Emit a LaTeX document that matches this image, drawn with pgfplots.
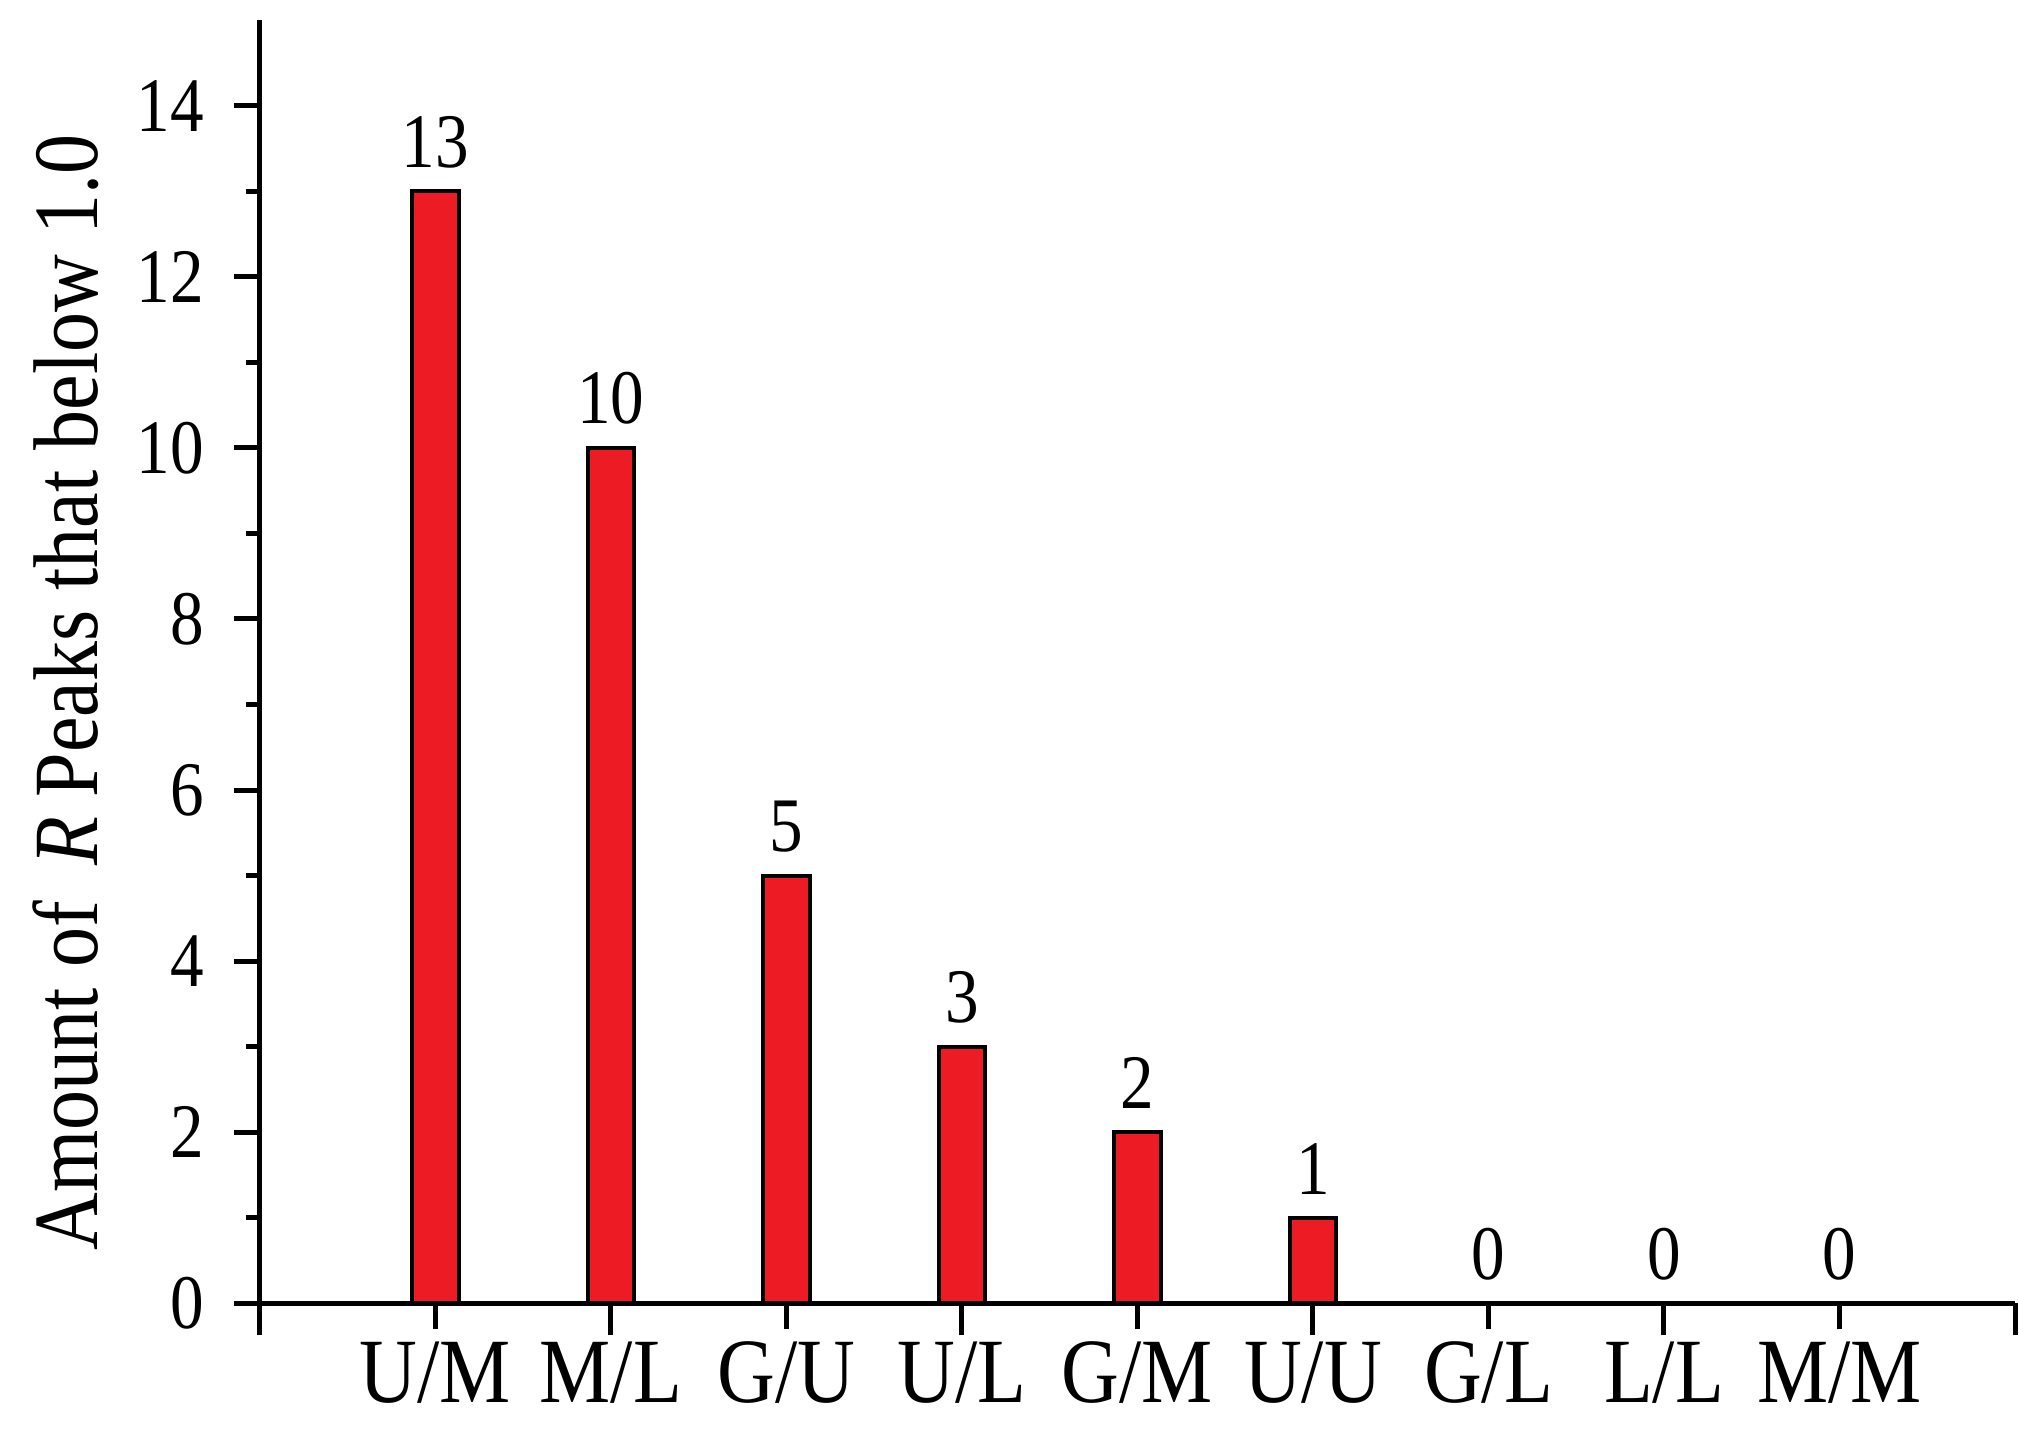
\documentclass[border=0pt]{standalone}
\usepackage{fontspec}
\setmainfont[FakeStretch=0.87]{Liberation Serif}
\usepackage{pgfplots}
\pgfplotsset{compat=1.18}
\definecolor{barred}{HTML}{ED1C24}
\begin{document}
\begin{tikzpicture}
\begin{axis}[
  width=439pt, height=321pt,
  scale only axis,
  axis x line=bottom, axis y line=left,
  axis line style={-, line width=1.25pt},
  xmin=-1, xmax=9, ymin=0, ymax=15,
  xtick={0,...,8},
  xticklabels={U/M,M/L,G/U,U/L,G/M,U/U,G/L,L/L,M/M},
  extra x ticks={-1,1,3,5,7,9},
  extra x tick labels={},
  extra x tick style={major tick length=8pt},
  ytick={0,2,...,14},
  minor ytick={1,3,...,13},
  tick align=outside,
  major tick length=6.5pt, minor tick length=3.5pt,
  every tick/.style={black, line width=1.25pt},
  tick label style={font=\fontsize{19.3}{22}\selectfont},
  y tick label style={xshift=-4pt},
  x tick label style={font=\fontsize{23}{26}\selectfont, yshift=0.5pt},
  /pgf/number format/assume math mode=true,
  ylabel={Amount of\, \textit{R} Peaks that below 1.0},
  every axis y label/.style={at={(axis description cs:-0.0923,0.476)},
    rotate=90, anchor=base, font=\fontsize{23}{26}\selectfont},
  ybar, bar width=0.265,
  nodes near coords,
  every node near coord/.append style={font=\fontsize{19.3}{22}\selectfont, black, yshift=2pt},
]
\addplot[fill=barred, draw=black, line width=1pt] coordinates {
  (0,13) (1,10) (2,5) (3,3) (4,2) (5,1) (6,0) (7,0) (8,0)
};
\end{axis}
\pgfresetboundingbox
\path[use as bounding box] ([shift={(-65pt,-38pt)}]current axis.south west)
  rectangle ([shift={(1pt,5pt)}]current axis.north east);
\end{tikzpicture}
\end{document}
